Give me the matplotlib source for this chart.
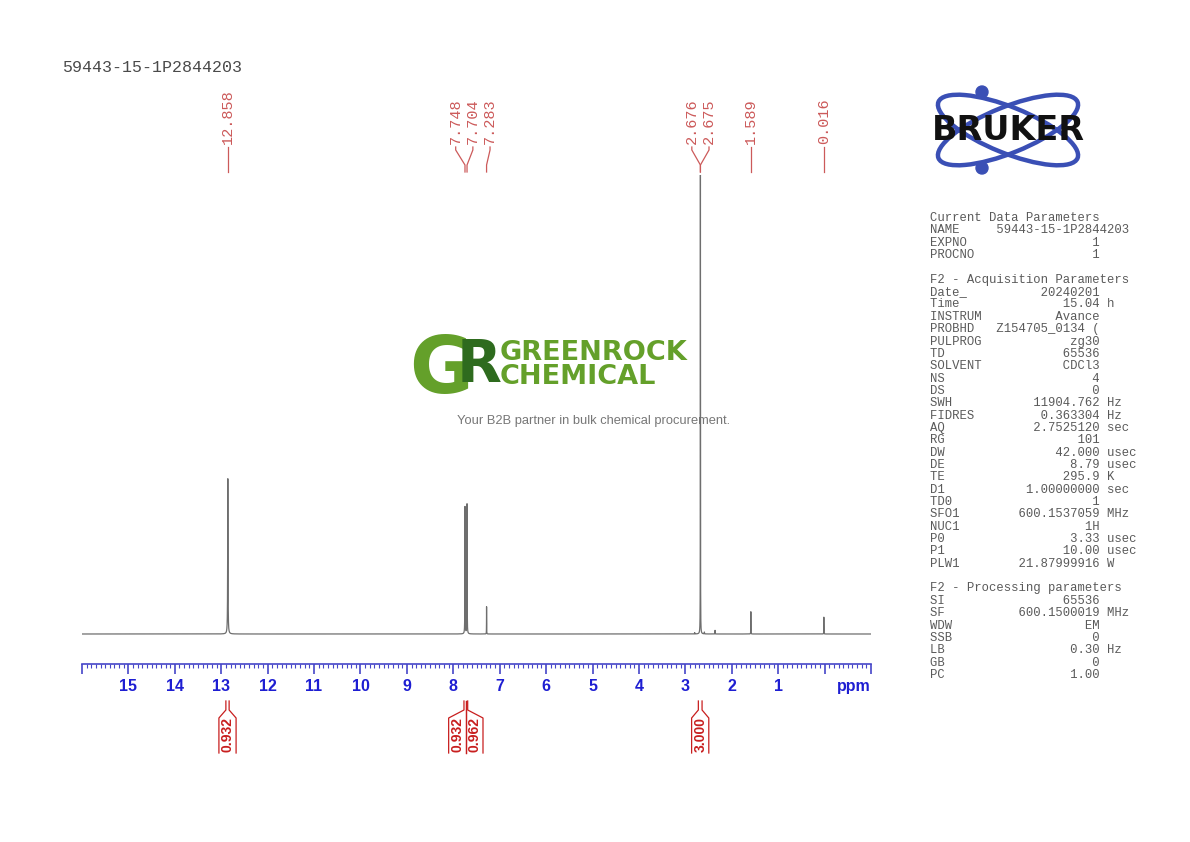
import matplotlib
matplotlib.use('Agg')
import matplotlib.pyplot as plt
import matplotlib.transforms as mtransforms
from matplotlib.patches import Ellipse, Circle
from matplotlib.ticker import MultipleLocator, FixedLocator
import numpy as np

# ---- data ----
sample_name = "59443-15-1P2844203"

# peaks: position (ppm), relative height, half width (ppm)
peak_ppm = [12.858, 7.748, 7.704, 7.283, 2.80, 2.676, 2.675, 2.59, 2.36, 1.589, 0.016]
peak_height = [0.342, 0.280, 0.286, 0.060, 0.003, 0.590, 0.590, 0.004, 0.008, 0.049, 0.037]
peak_width = [0.004, 0.0025, 0.0025, 0.0015, 0.002, 0.0015, 0.0015, 0.002, 0.002, 0.0015, 0.0015]

# picked peak labels
label_ppm = [12.858, 7.748, 7.704, 7.283, 2.676, 2.675, 1.589, 0.016]

# integrals: (start, end) in ppm and value
integral_ranges = [(12.90, 12.83), (7.77, 7.73), (7.73, 7.69), (2.72, 2.64)]
integral_values = [0.932, 0.932, 0.962, 3.000]

tick_values = list(range(16, -2, -1))
tick_labels = ['' if v in (16, 0, -1) else str(v) for v in tick_values]

current_params = [("NAME", "59443-15-1P2844203", ""), ("EXPNO", "1", ""),
                  ("PROCNO", "1", "")]
acq_params = [("Date_", "20240201", ""), ("Time", "15.04", "h"),
              ("INSTRUM", "Avance", ""), ("PROBHD", "Z154705_0134 (", ""),
              ("PULPROG", "zg30", ""), ("TD", "65536", ""),
              ("SOLVENT", "CDCl3", ""), ("NS", "4", ""), ("DS", "0", ""),
              ("SWH", "11904.762", "Hz"), ("FIDRES", "0.363304", "Hz"),
              ("AQ", "2.7525120", "sec"), ("RG", "101", ""),
              ("DW", "42.000", "usec"), ("DE", "8.79", "usec"),
              ("TE", "295.9", "K"), ("D1", "1.00000000", "sec"),
              ("TD0", "1", ""), ("SFO1", "600.1537059", "MHz"),
              ("NUC1", "1H", ""), ("P0", "3.33", "usec"),
              ("P1", "10.00", "usec"), ("PLW1", "21.87999916", "W")]
proc_params = [("SI", "65536", ""), ("SF", "600.1500019", "MHz"),
               ("WDW", "EM", ""), ("SSB", "0", ""), ("LB", "0.30", "Hz"),
               ("GB", "0", ""), ("PC", "1.00", "")]

# ---- colours ----
blue_axis = '#4646c8'
blue_text = '#1e1ed2'
peak_red = '#cc5a5a'
int_red = '#c81e1e'
spec_gray = '#6e6e6e'
green_light = '#64a02a'
green_dark = '#2e6b1e'
bruker_blue = '#3a4fb5'

W, H = 1190, 842
fig = plt.figure(figsize=(W / 100, H / 100), dpi=100)

# overlay in pixel coordinates (for decorations)
ov = fig.add_axes([0, 0, 1, 1])
ov.set_xlim(0, W)
ov.set_ylim(H, 0)
ov.axis('off')
ov.patch.set_visible(False)
ov.set_zorder(0)

# spectrum axes
ax = fig.add_axes([82 / W, 1 - 664 / H, 789 / W, (664 - 175) / H])
ax.set_zorder(1)
ax.patch.set_visible(False)
ax.set_xlim(16, -1)
ax.set_ylim(-0.0661, 1.011)

ppm = np.linspace(16, -1, 170001)
spec = np.zeros_like(ppm)
for p, h, w in zip(peak_ppm, peak_height, peak_width):
    spec += h / (1 + ((ppm - p) / w) ** 2)
ax.plot(ppm, spec, color=spec_gray, lw=0.9)

for s in ['top', 'left', 'right']:
    ax.spines[s].set_visible(False)
ax.spines['bottom'].set_color(blue_axis)
ax.spines['bottom'].set_linewidth(1.2)
ax.set_yticks([])
ax.xaxis.set_major_locator(FixedLocator(tick_values))
ax.xaxis.set_minor_locator(MultipleLocator(0.1))
ax.set_xticklabels(tick_labels, fontweight='bold', fontfamily='Liberation Sans',
                   fontsize=11.5, color=blue_text)
ax.tick_params(axis='x', which='major', length=7, width=1.2, color=blue_axis, pad=4)
ax.tick_params(axis='x', which='minor', length=3, width=0.8, color=blue_axis)

blend = mtransforms.blended_transform_factory(ax.transData, ov.transData)

ov.text(-1, 686, 'ppm', transform=blend, ha='right', va='center',
        fontweight='bold', fontfamily='Liberation Sans', fontsize=11.5,
        color=blue_text)


def spread(centers, spacing):
    # push crowded label positions apart, keeping each group centred
    order = sorted(range(len(centers)), key=lambda i: -centers[i])
    groups = [[i] for i in order]
    while True:
        pos = {}
        for g in groups:
            mid = np.mean([centers[i] for i in g])
            n = len(g)
            for k, i in enumerate(g):
                pos[i] = mid + ((n - 1) / 2 - k) * spacing
        merged = False
        for a in range(len(groups) - 1):
            if pos[groups[a][-1]] - pos[groups[a + 1][0]] < spacing - 1e-9:
                groups[a] = groups[a] + groups[a + 1]
                del groups[a + 1]
                merged = True
                break
        if not merged:
            return [pos[i] for i in range(len(centers))]


# peak labels
label_pos = spread(label_ppm, 0.37)
for v, lx in zip(label_ppm, label_pos):
    ov.text(lx, 144, f'{v:.3f}', transform=blend, rotation=90, ha='center',
            va='bottom', fontfamily='Liberation Mono', fontsize=11, color=peak_red)
    ov.plot([lx, lx, v, v], [147, 150, 165, 172], transform=blend,
            color=peak_red, lw=0.9)

# integrals
int_centers = [(a + b) / 2 for a, b in integral_ranges]
int_pos = spread(int_centers, 0.37)
half = 0.185
for (a, b), val, c in zip(integral_ranges, integral_values, int_pos):
    ov.plot([c + half, c + half, a, a], [753, 718, 710, 701], transform=blend,
            color=int_red, lw=0.9)
    ov.plot([c - half, c - half, b, b], [753, 718, 710, 701], transform=blend,
            color=int_red, lw=0.9)
    ov.text(c, 735, f'{val:.3f}', transform=blend, rotation=90, ha='center',
            va='center', fontweight='bold', fontfamily='Liberation Sans',
            fontsize=10, color=int_red)

# title
ov.text(62, 68, sample_name, fontfamily='Liberation Mono', fontsize=12,
        color='#4a4a4a', va='center', ha='left')

# parameter block
lines = ["Current Data Parameters"]
lines += [k.ljust(9) + v.rjust(14) + (" " + u if u else "") for k, v, u in current_params]
lines += ["", "F2 - Acquisition Parameters"]
lines += [k.ljust(9) + v.rjust(14) + (" " + u if u else "") for k, v, u in acq_params]
lines += ["", "F2 - Processing parameters"]
lines += [k.ljust(9) + v.rjust(14) + (" " + u if u else "") for k, v, u in proc_params]
for i, line in enumerate(lines):
    if line:
        ov.text(930, 218 + i * 12.35, line, fontfamily='Liberation Mono',
                fontsize=8.8, color='#5a5a5a', va='center', ha='left')

# Bruker logo
for ang in (22, -22):
    ov.add_patch(Ellipse((1008, 130), 150, 46, angle=ang, fill=False,
                         ec=bruker_blue, lw=3.2))
ov.add_patch(Circle((982, 92), 6, color=bruker_blue))
ov.add_patch(Circle((982, 168), 6, color=bruker_blue))
ov.text(1008, 130, 'BRUKER', ha='center', va='center', fontweight='bold',
        fontfamily='DejaVu Sans', fontsize=24, color='#111111')

# GreenRock watermark
ov.text(441, 371, 'G', ha='center', va='center', fontweight='bold',
        fontfamily='DejaVu Sans', fontsize=56, color=green_light)
ov.text(479, 366, 'R', ha='center', va='center', fontweight='bold',
        fontfamily='DejaVu Sans', fontsize=42, color=green_dark)
ov.text(500, 353, 'GREENROCK', ha='left', va='center', fontweight='bold',
        fontfamily='DejaVu Sans', fontsize=19.5, color=green_light)
ov.text(500, 377, 'CHEMICAL', ha='left', va='center', fontweight='bold',
        fontfamily='DejaVu Sans', fontsize=19.5, color=green_light)
ov.text(594, 421, 'Your B2B partner in bulk chemical procurement.', ha='center',
        va='center', fontfamily='Liberation Sans', fontsize=9.3, color='#777777')

fig.savefig('out.png', dpi=100)
plt.close(fig)
